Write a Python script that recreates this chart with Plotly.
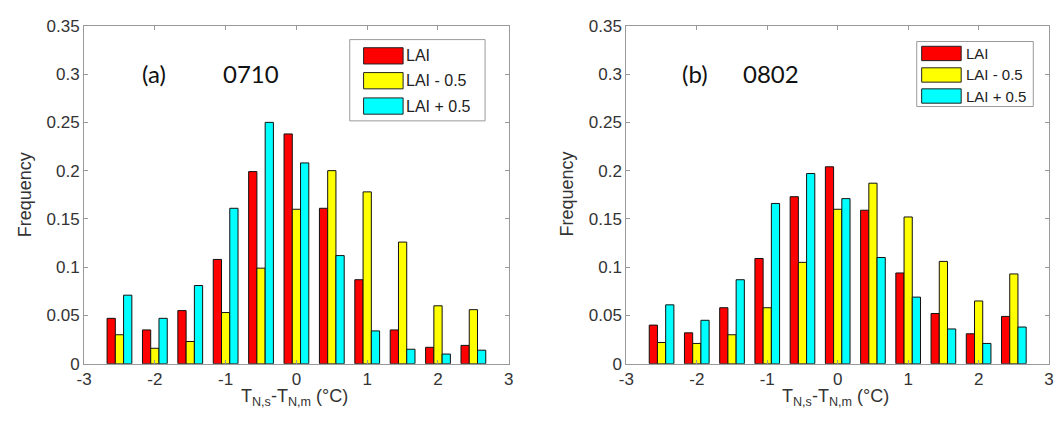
import plotly.graph_objects as go

W, H = 1061, 433

bins = [-2.5, -2.0, -1.5, -1.0, -0.5, 0.0, 0.5, 1.0, 1.5, 2.0, 2.5]

# Panel (a) 0710
a_lai = [0.047, 0.035, 0.055, 0.108, 0.199, 0.238, 0.161, 0.087, 0.035, 0.017, 0.019]
a_minus = [0.030, 0.016, 0.023, 0.053, 0.099, 0.160, 0.200, 0.178, 0.126, 0.060, 0.056]
a_plus = [0.071, 0.047, 0.081, 0.161, 0.250, 0.208, 0.112, 0.034, 0.015, 0.010, 0.014]

# Panel (b) 0802
b_lai = [0.040, 0.032, 0.058, 0.109, 0.173, 0.204, 0.159, 0.094, 0.052, 0.031, 0.049]
b_minus = [0.022, 0.021, 0.030, 0.058, 0.105, 0.160, 0.187, 0.152, 0.106, 0.065, 0.093]
b_plus = [0.061, 0.045, 0.087, 0.166, 0.197, 0.171, 0.110, 0.069, 0.036, 0.021, 0.038]

series_names = ["LAI", "LAI - 0.5", "LAI + 0.5"]
colors = ["#ff0000", "#ffff00", "#00ffff"]

x_tickvals = [-3, -2, -1, 0, 1, 2, 3]
x_ticktext = ["-3", "-2", "-1", "0", "1", "2", "3"]
y_tickvals = [0, 0.05, 0.1, 0.15, 0.2, 0.25, 0.3, 0.35]
y_ticktext = ["0", "0.05", "0.1", "0.15", "0.2", "0.25", "0.3", "0.35"]

fig = go.Figure()

for (vals, xa, ya) in [((a_lai, a_minus, a_plus), "x", "y"), ((b_lai, b_minus, b_plus), "x2", "y2")]:
    for name, col, v in zip(series_names, colors, vals):
        fig.add_trace(go.Bar(
            x=bins, y=v, name=name, xaxis=xa, yaxis=ya,
            marker=dict(color=col, line=dict(color="#111111", width=1)),
            showlegend=False,
        ))

def px(x):
    return x / W

def py(y):
    return 1 - y / H

tickfont = dict(family="Liberation Sans, Arial, sans-serif", size=17, color="#333333")
axis_common = dict(
    showgrid=False, zeroline=False, showline=True, linecolor="#9a9a9a", linewidth=1,
    mirror="ticks", ticks="inside", ticklen=4, tickcolor="#9a9a9a", tickfont=tickfont,
    ticklabeloverflow="allow",
)
xax = dict(range=[-3.0001, 3.0001], tickmode="array", tickvals=x_tickvals, ticktext=x_ticktext, **axis_common)
yax = dict(range=[0, 0.3501], tickmode="array", tickvals=y_tickvals, ticktext=y_ticktext, **axis_common)

ydom = [py(371), py(17.5)]
fig.update_layout(
    width=W, height=H,
    margin=dict(l=0, r=0, t=0, b=0),
    paper_bgcolor="white", plot_bgcolor="white",
    barmode="group", bargap=0.30, bargroupgap=0.0,
    xaxis=dict(domain=[px(77), px(507)], anchor="y", **xax),
    yaxis=dict(domain=ydom, anchor="x", **yax),
    xaxis2=dict(domain=[px(626), px(1054)], anchor="y2", **xax),
    yaxis2=dict(domain=ydom, anchor="x2", **yax),
)

annotations = []
shapes = []
lab_font = dict(family="Liberation Sans, Arial, sans-serif", size=18, color="#333333")
big_font = dict(family="Lato, Open Sans, sans-serif", size=24, color="#111111")

# Axis titles
for cx, fx in [(290, 18), (838, 566)]:
    annotations.append(dict(x=px(cx), y=py(406), xref="paper", yref="paper",
                            text="T<sub>N,s</sub>-T<sub>N,m</sub> (°C)", showarrow=False,
                            font=lab_font, xanchor="center", yanchor="middle"))
    annotations.append(dict(x=px(fx), y=py(194), xref="paper", yref="paper",
                            text="Frequency", showarrow=False, textangle=-90,
                            font=lab_font, xanchor="center", yanchor="middle"))

# Panel labels
panel_labels = [
    dict(x=px(148), y=py(67), text="(a)", font=big_font),
    dict(x=px(246), y=py(67), text="0710", font=big_font),
    dict(x=px(696), y=py(67), text="(b)", font=big_font),
    dict(x=px(772), y=py(67), text="0802", font=big_font),
]
for an in panel_labels:
    an.update(xref="paper", yref="paper", showarrow=False, xanchor="center", yanchor="middle")
annotations += panel_labels

# Custom legends
def legend(x0, y0, x1, y1, sx0, sx1, rows, sh, tx, fsize):
    shapes.append(dict(type="rect", xref="paper", yref="paper",
                       x0=px(x0), x1=px(x1), y0=py(y1), y1=py(y0),
                       line=dict(color="#9a9a9a", width=1), fillcolor="white", layer="above"))
    for name, col, ry in zip(series_names, colors, rows):
        shapes.append(dict(type="rect", xref="paper", yref="paper",
                           x0=px(sx0), x1=px(sx1), y0=py(ry + sh / 2), y1=py(ry - sh / 2),
                           line=dict(color="#222222", width=1), fillcolor=col, layer="above"))
        annotations.append(dict(x=px(tx), y=py(ry), xref="paper", yref="paper", text=name,
                                showarrow=False, xanchor="left", yanchor="middle",
                                font=dict(family="Liberation Sans, Arial, sans-serif",
                                          size=fsize, color="#222222")))

legend(346, 32, 483, 117, 360, 400, [49, 75, 101.5], 17, 401, 16)
legend(920, 34, 1038, 102, 925, 965, [46.5, 69, 91], 15, 968, 15)

fig.update_layout(annotations=annotations, shapes=shapes)

fig.write_html("out.html", config={"displayModeBar": False},
               post_script="document.body.style.margin='0px';")
